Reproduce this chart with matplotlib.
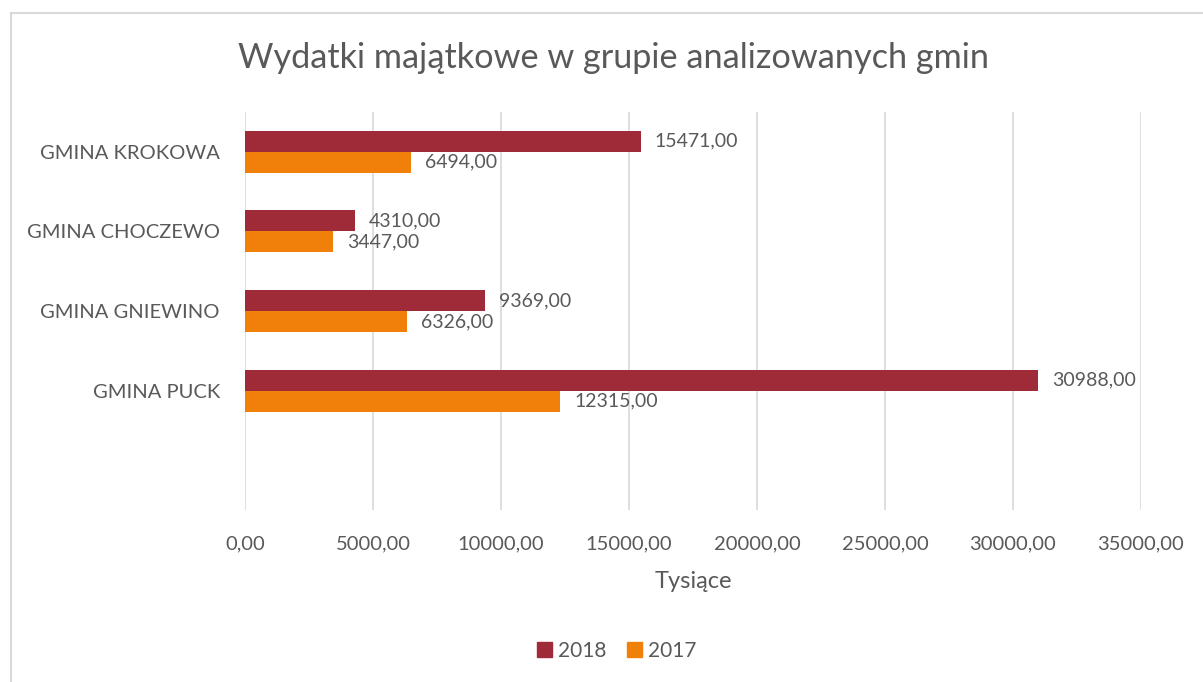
import matplotlib
matplotlib.use("Agg")
import matplotlib.pyplot as plt
from matplotlib.lines import Line2D
import numpy as np

plt.rcParams["font.family"] = ["Lato", "DejaVu Sans"]

TITLE = "Wydatki majątkowe w grupie analizowanych gmin"
CATEGORIES = ["GMINA KROKOWA", "GMINA CHOCZEWO", "GMINA GNIEWINO", "GMINA PUCK"]
SERIES = ["2018", "2017"]
VALUES_2018 = [15471.00, 4310.00, 9369.00, 30988.00]
VALUES_2017 = [6494.00, 3447.00, 6326.00, 12315.00]
XTICKS = [0, 5000, 10000, 15000, 20000, 25000, 30000, 35000]
XLABEL = "Tysiące"

C18 = "#A02B38"
C17 = "#F0800A"
TXT = "#595959"
GRID = "#D9D9D9"

fmt = lambda v: f"{v:.2f}".replace(".", ",")

fig = plt.figure(figsize=(12.03, 6.82), dpi=100)
ax = fig.add_axes([245/1203, 1-510/682, (1141-245)/1203, (510-112)/682])

y = np.arange(len(CATEGORIES))
h = 0.265
b18 = ax.barh(y - h/2, VALUES_2018, height=h, color=C18, label=SERIES[0], zorder=3)
b17 = ax.barh(y + h/2, VALUES_2017, height=h, color=C17, label=SERIES[1], zorder=3)
for bars, vals in ((b18, VALUES_2018), (b17, VALUES_2017)):
    ax.bar_label(bars, labels=[fmt(v) for v in vals], padding=10,
                 fontsize=14, color=TXT)

# one empty category slot below the last one, like the original
ax.set_ylim(len(CATEGORIES) + 0.5, -0.5)
ax.set_xlim(0, XTICKS[-1])
ax.set_yticks(y)
ax.set_yticklabels(CATEGORIES, fontsize=14.5, color=TXT)
ax.set_xticks(XTICKS)
ax.set_xticklabels([fmt(v) for v in XTICKS], fontsize=14.5, color=TXT)
ax.tick_params(axis="both", length=0)
ax.tick_params(axis="x", pad=18)
ax.tick_params(axis="y", pad=18)
ax.grid(axis="x", color=GRID, lw=1.2, zorder=0)
for s in ax.spines.values():
    s.set_visible(False)
ax.set_xlabel(XLABEL, fontsize=17, color=TXT, labelpad=14)

fig.text(613/1203, 1-58/682, TITLE, ha="center", va="center", fontsize=24.7, color=TXT)

handles = [plt.Rectangle((0, 0), 1, 1, color=C18), plt.Rectangle((0, 0), 1, 1, color=C17)]
fig.legend(handles, SERIES, loc="center", bbox_to_anchor=(617/1203, 1-651/682), ncol=2,
           frameon=False, fontsize=15, labelcolor=TXT, handlelength=0.7, handleheight=0.7,
           handletextpad=0.3, columnspacing=1.0)

# chart area border (runs off the right and bottom edges)
fig.add_artist(Line2D([11/1203, 1.0], [1-13/682, 1-13/682], color=GRID, lw=1.5, transform=fig.transFigure))
fig.add_artist(Line2D([11/1203, 11/1203], [0.0, 1-13/682], color=GRID, lw=1.5, transform=fig.transFigure))

fig.savefig("out.png", dpi=100)
